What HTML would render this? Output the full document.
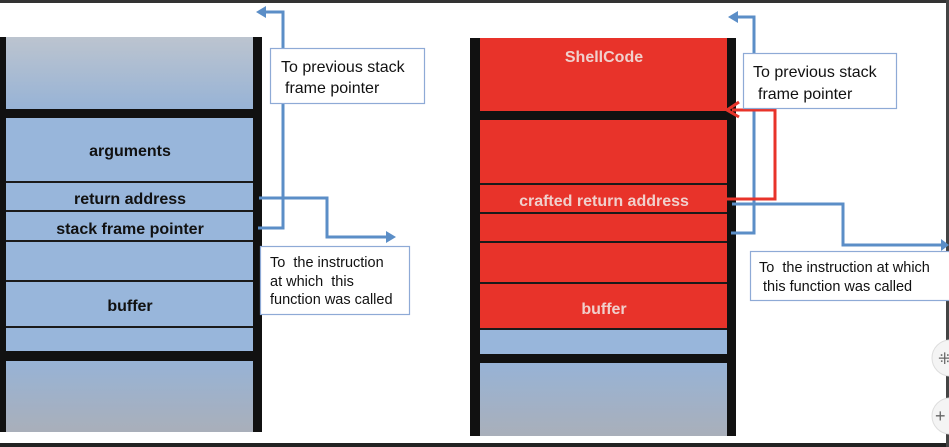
<!DOCTYPE html>
<html><head><style>
html,body{margin:0;padding:0;background:#fff;}
body{width:949px;height:447px;overflow:hidden;position:relative;font-family:"Liberation Sans",sans-serif;}
text{white-space:pre;}
</style></head><body>
<svg width="949" height="447" viewBox="0 0 949 447" xmlns="http://www.w3.org/2000/svg" style="position:absolute;left:0;top:0">
<defs>
<linearGradient id="g1" x1="0" y1="0" x2="0" y2="1"><stop offset="0" stop-color="#bcc4cf"/><stop offset="1" stop-color="#97b3d6"/></linearGradient>
<linearGradient id="g2" x1="0" y1="0" x2="0" y2="1"><stop offset="0" stop-color="#97b3d6"/><stop offset="1" stop-color="#a9afba"/></linearGradient>
</defs>
<rect x="0" y="0" width="949" height="3" fill="#333"/>
<rect x="0" y="443" width="949" height="4" fill="#222"/>
<rect x="946" y="0" width="3" height="447" fill="#444"/>
<!-- left stack -->
<rect x="5" y="37" width="249" height="72" fill="url(#g1)"/>
<rect x="5" y="118" width="249" height="233" fill="#98b6db"/>
<rect x="5" y="361" width="249" height="71" fill="url(#g2)"/>
<rect x="0" y="109" width="262" height="9" fill="#111"/>
<rect x="0" y="351" width="262" height="10" fill="#111"/>
<g fill="#1a1a1a"><rect x="5" y="181" width="249" height="2"/><rect x="5" y="210" width="249" height="2"/><rect x="5" y="240" width="249" height="2"/><rect x="5" y="280" width="249" height="2"/><rect x="5" y="326" width="249" height="2"/></g>
<rect x="0" y="37" width="6" height="395" fill="#111"/>
<rect x="253" y="37" width="9" height="395" fill="#111"/>
<g font-weight="bold" font-size="16" fill="#111" text-anchor="middle">
<text x="130" y="156">arguments</text>
<text x="130" y="204">return address</text>
<text x="130" y="234">stack frame pointer</text>
<text x="130" y="311">buffer</text>
</g>
<!-- right stack -->
<rect x="480" y="38" width="248" height="73" fill="#e8332a"/>
<rect x="480" y="120" width="248" height="209" fill="#e8332a"/>
<rect x="480" y="330" width="248" height="24" fill="#98b6db"/>
<rect x="480" y="363" width="248" height="73" fill="url(#g2)"/>
<rect x="470" y="111" width="266" height="9" fill="#111"/>
<rect x="470" y="354" width="266" height="9" fill="#111"/>
<g fill="#1a1a1a"><rect x="480" y="183" width="248" height="2"/><rect x="480" y="212" width="248" height="2"/><rect x="480" y="241" width="248" height="2"/><rect x="480" y="282" width="248" height="2"/><rect x="480" y="328" width="248" height="2"/></g>
<rect x="470" y="38" width="10" height="398" fill="#111"/>
<rect x="727" y="38" width="9" height="398" fill="#111"/>
<g font-weight="bold" font-size="16" fill="#f0d0cc" text-anchor="middle">
<text x="604" y="62">ShellCode</text>
<text x="604" y="206">crafted return address</text>
<text x="604" y="314">buffer</text>
</g>
<g fill="none" stroke="#5b8ec7" stroke-width="3">
<polyline points="258,228 283,228 283,12 262,12"/>
<polyline points="259,198 327,198 327,237 390,237"/>
<polyline points="731,233 754,233 754,17 734,17"/>
<polyline points="732,204 843,204 843,245 945,245"/>
</g>
<g fill="#5b8ec7">
<polygon points="256,12 266,6 266,18"/>
<polygon points="396,237 386,231 386,243"/>
<polygon points="728,17 738,11 738,23"/>
<polygon points="949,245 941,239 941,251"/>
</g>
<polyline points="720,199 775,199 775,110 732,110" fill="none" stroke="#e8332a" stroke-width="3"/>
<polyline points="739,102 727,110 739,117" fill="none" stroke="#e8332a" stroke-width="3"/>
<g fill="#fff" stroke="#8eaad6" stroke-width="1.2">
<rect x="270.5" y="48.5" width="154" height="55"/>
<rect x="260.5" y="246.5" width="149" height="68"/>
<rect x="743.5" y="53.5" width="153" height="55"/>
<rect x="750.5" y="251.5" width="200" height="49"/>
</g>
<g font-size="16" fill="#111">
<text x="281" y="72">To previous stack</text>
<text x="285" y="93">frame pointer</text>
<text x="753" y="77">To previous stack</text>
<text x="758" y="99">frame pointer</text>
</g>
<g font-size="14.5" fill="#111">
<text x="270" y="267" xml:space="preserve">To  the instruction</text>
<text x="270" y="286" xml:space="preserve">at which  this</text>
<text x="270" y="304">function was called</text>
<text x="759" y="272" xml:space="preserve">To  the instruction at which</text>
<text x="763" y="291">this function was called</text>
</g>
<circle cx="950" cy="358" r="18" fill="#f4f4f4" stroke="#ddd"/>
<circle cx="950" cy="416" r="18" fill="#f4f4f4" stroke="#ddd"/>
<text x="938" y="364" font-size="16" fill="#666">⁜</text>
<text x="935" y="422" font-size="18" fill="#666">+</text>
</svg>
</body></html>
